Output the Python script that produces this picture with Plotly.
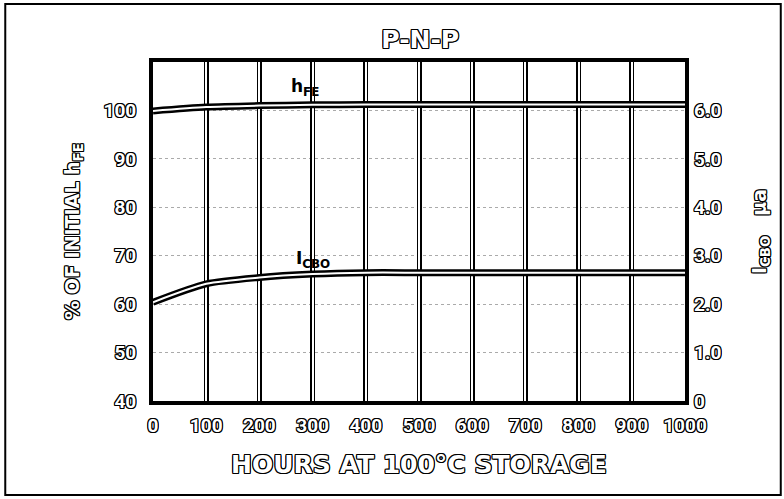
import plotly.graph_objects as go

hours = [0, 100, 200, 300, 400, 500, 600, 700, 800, 900, 1000]
hfe_pct = [99.9, 100.7, 101.0, 101.15, 101.2, 101.2, 101.2, 101.2, 101.2, 101.2, 101.2]
icbo_ua = [2.04, 2.42, 2.55, 2.62, 2.65, 2.65, 2.65, 2.65, 2.65, 2.65, 2.65]

left_ticks = [40, 50, 60, 70, 80, 90, 100]
right_ticks = [0, 1, 2, 3, 4, 5, 6]
right_labels = ["0", "1.0", "2.0", "3.0", "4.0", "5.0", "6.0"]
x_ticks = hours
grid_x = hours[1:-1]

FONT = "DejaVu Sans"
NARROW = "Roboto, DejaVu Sans"
OUTLINE = ("1px 0 0 #000, -1px 0 0 #000, 0 1px 0 #000, 0 -1px 0 #000, "
           "1px 1px 0 #000, -1px -1px 0 #000, 1px -1px 0 #000, -1px 1px 0 #000, 0 0 1px #000")


def ofont(size, family=FONT):
    return dict(family=family, size=size, color="white", weight="bold", shadow=OUTLINE)


fig = go.Figure()
# carrier traces so the overlay grid axes are drawn
fig.add_trace(go.Scatter(x=hours, y=hfe_pct, xaxis="x2", mode="none", hoverinfo="skip", showlegend=False))
fig.add_trace(go.Scatter(x=hours, y=hfe_pct, xaxis="x3", mode="none", hoverinfo="skip", showlegend=False))
# hFE curve (double line look)
fig.add_trace(go.Scatter(x=hours, y=hfe_pct, mode="lines",
                         line=dict(color="black", width=7, shape="spline", smoothing=0.7),
                         hoverinfo="skip", showlegend=False))
fig.add_trace(go.Scatter(x=hours, y=hfe_pct, mode="lines",
                         line=dict(color="white", width=2, shape="spline", smoothing=0.7),
                         hoverinfo="skip", showlegend=False))
# ICBO curve on right axis
fig.add_trace(go.Scatter(x=hours, y=icbo_ua, yaxis="y2", mode="lines",
                         line=dict(color="black", width=7, shape="spline", smoothing=0.7),
                         hoverinfo="skip", showlegend=False))
fig.add_trace(go.Scatter(x=hours, y=icbo_ua, yaxis="y2", mode="lines",
                         line=dict(color="white", width=2, shape="spline", smoothing=0.7),
                         hoverinfo="skip", showlegend=False))

fig.update_layout(
    width=784, height=499,
    margin=dict(l=153, r=99, t=62, b=98),
    paper_bgcolor="white", plot_bgcolor="white",
    title=dict(text="P-N-P", x=0.536, xanchor="center", y=0.922, yanchor="middle", font=ofont(25)),
    xaxis=dict(range=[0, 1000], tickvals=x_ticks, ticktext=[str(v) for v in x_ticks],
               showgrid=False, zeroline=False, showline=True, linecolor="black", linewidth=4, mirror=True,
               ticks="", tickfont=ofont(19, NARROW), ticklabelstandoff=4,
               title=dict(text="HOURS AT 100°C STORAGE", standoff=21, font=ofont(25))),
    xaxis2=dict(overlaying="x", range=[0, 1000], tickvals=grid_x, showticklabels=False, ticks="",
                showgrid=True, gridcolor="black", gridwidth=5, zeroline=False, showline=False),
    xaxis3=dict(overlaying="x", range=[0, 1000], tickvals=grid_x, showticklabels=False, ticks="",
                showgrid=True, gridcolor="white", gridwidth=1.5, zeroline=False, showline=False),
    yaxis=dict(range=[40, 110], tickvals=left_ticks, showgrid=True, gridcolor="#aaaaaa", gridwidth=1,
               griddash="dot", zeroline=False, showline=True, linecolor="black", linewidth=4, mirror=True,
               ticks="", tickfont=ofont(19, NARROW), ticklabelstandoff=9,
               title=dict(text="% OF INITIAL h<sub>FE</sub>", standoff=20, font=ofont(19))),
    yaxis2=dict(range=[0, 7], overlaying="y", side="right", tickvals=right_ticks, ticktext=right_labels,
                showgrid=False, zeroline=False, showline=False, ticks="", tickfont=ofont(19, NARROW),
                ticklabelstandoff=8,
                title=dict(text="I<sub>CBO</sub>   μa", standoff=32, font=ofont(19))),
    annotations=[
        dict(x=286, y=104.8, xref="x", yref="y", text="h<sub>FE</sub>", showarrow=False,
             font=dict(family=FONT, size=17, color="black", weight="bold")),
        dict(x=300, y=69.2, xref="x", yref="y", text="I<sub>CBO</sub>", showarrow=False,
             font=dict(family=FONT, size=17, color="black", weight="bold")),
    ],
    shapes=[
        dict(type="rect", xref="paper", yref="paper", x0=-0.2777, x1=1.180, y0=-0.2773, y1=1.171,
             line=dict(color="black", width=2), fillcolor="rgba(0,0,0,0)", layer="below"),
    ],
)

fig.write_html("out.html", config={"displayModeBar": False})
with open("out.html", "r", encoding="utf-8") as f:
    html = f.read()
html = html.replace("<body>", '<body style="margin:0;padding:0;">', 1)
with open("out.html", "w", encoding="utf-8") as f:
    f.write(html)
